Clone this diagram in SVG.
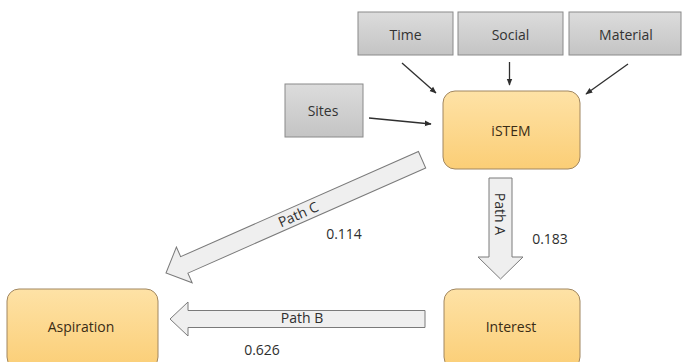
<svg xmlns="http://www.w3.org/2000/svg" width="683" height="362" viewBox="0 0 683 362">
<defs>
<linearGradient id="gGray" x1="0" y1="0" x2="0" y2="1">
<stop offset="0" stop-color="#dcdcdc"/><stop offset="1" stop-color="#c4c4c4"/>
</linearGradient>
<linearGradient id="gOrange" x1="0" y1="0" x2="0" y2="1">
<stop offset="0" stop-color="#fee2a6"/><stop offset="1" stop-color="#fbce76"/>
</linearGradient>
<marker id="ah" viewBox="0 0 10 10" refX="9" refY="5" markerWidth="7" markerHeight="7" orient="auto" markerUnits="userSpaceOnUse">
<path d="M0,1 L10,5 L0,9 z" fill="#2f2f2f"/>
</marker>
<style>
.gray{fill:url(#gGray);stroke:#8a8a8a;stroke-width:1}
.orange{fill:url(#gOrange);stroke:#a08660;stroke-width:1}
.t{font-family:"Open Sans","Liberation Sans",sans-serif;font-size:14px;text-anchor:middle;dominant-baseline:central}
.tg{fill:#333333}
.to{fill:#3a2c15}
.conn{stroke:#2f2f2f;stroke-width:1.3;fill:none;marker-end:url(#ah)}
.block{fill:#efefef;stroke:#7a7a7a;stroke-width:1}
.lbl{fill:#2e2e2e}
</style>
</defs>
<rect width="683" height="362" fill="#ffffff"/>

<g id="time"><rect class="gray" x="358" y="12" width="95" height="43"/><text class="t tg" x="405.5" y="34">Time</text></g>
<g id="social"><rect class="gray" x="458" y="12" width="105" height="43"/><text class="t tg" x="510.5" y="34">Social</text></g>
<g id="material"><rect class="gray" x="569" y="12" width="112" height="43"/><text class="t tg" x="626" y="34">Material</text></g>
<g id="sites"><rect class="gray" x="285" y="84" width="78" height="53"/><text class="t tg" x="323" y="110">Sites</text></g>
<g id="istem"><rect class="orange" x="443" y="91" width="137" height="78" rx="12"/><text class="t to" x="511" y="130">iSTEM</text></g>
<g id="interest"><rect class="orange" x="444" y="289" width="136" height="80" rx="12"/><text class="t to" x="511" y="326">Interest</text></g>
<g id="aspiration"><rect class="orange" x="7" y="289" width="151" height="80" rx="12"/><text class="t to" x="81" y="326">Aspiration</text></g>

<g id="connectors">
<line class="conn" x1="402" y1="63" x2="436" y2="93"/>
<line class="conn" x1="509.5" y1="62" x2="509.5" y2="85"/>
<line class="conn" x1="628" y1="64" x2="586" y2="94"/>
<line class="conn" x1="369" y1="118" x2="431" y2="124"/>

<g id="pathA">
<polygon class="block" points="489,178 512,178 512,257 523,257 500.5,279 478,257 489,257"/>
<text class="t lbl" transform="translate(500.5,214) rotate(90)">Path A</text>
<text class="t lbl" x="550" y="238">0.183</text>
</g>
<g id="pathB">
<polygon class="block" points="425,310.5 188,310.5 188,302 170,319 188,336 188,327.5 425,327.5"/>
<text class="t lbl" x="302" y="317.5">Path B</text>
<text class="t lbl" x="262" y="349">0.626</text>
</g>
<g id="pathC">
<polygon class="block" transform="translate(166,273) rotate(156.14)" points="-280,-9 -20,-9 -20,-19.5 0,0 -20,19.5 -20,9 -280,9"/>
<text class="t lbl" transform="translate(298,214) rotate(-23.86)">Path C</text>
<text class="t lbl" x="344" y="233">0.114</text>
</g>
</g>
</svg>
